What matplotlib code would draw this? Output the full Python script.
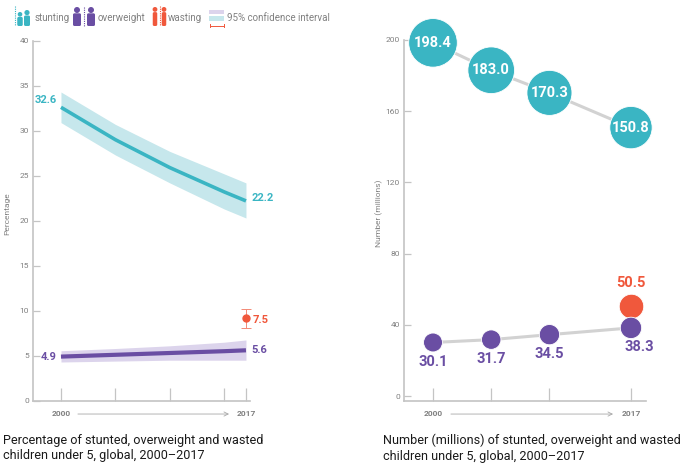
import numpy as np
import matplotlib.pyplot as plt
from matplotlib.patches import Circle, FancyBboxPatch, Rectangle

plt.rcParams["font.family"] = ["Roboto", "DejaVu Sans"]

# ---------------------------------------------------------------------------
# data
# ---------------------------------------------------------------------------
# left panel: prevalence (%)
years_pct = [2000, 2005, 2010, 2015, 2017]
stunting_pct = [32.6, 29.0, 25.9, 23.2, 22.2]
stunting_lo = [30.9, 27.3, 24.2, 21.3, 20.3]
stunting_hi = [34.3, 30.7, 27.7, 25.2, 24.2]
overweight_pct = [4.9, 5.1, 5.3, 5.5, 5.6]
overweight_lo = [4.3, 4.4, 4.5, 4.5, 4.5]
overweight_hi = [5.55, 5.8, 6.1, 6.5, 6.75]
wasting_year = 2017
wasting_pos = 9.15          # where the dot sits in the picture
wasting_ci = (8.05, 10.15)
wasting_label = "7.5"

# right panel: numbers (millions)
years_num = [2000, 2005, 2010, 2017]
stunting_num = [198.4, 183.0, 170.3, 150.8]
overweight_num = [30.1, 31.7, 34.5, 38.3]
wasting_num = 50.5

TEAL = "#3ab5c3"
TEAL_CI = "#c6e7ec"
PURPLE = "#6a4ea3"
PURPLE_CI = "#dcd4ec"
RED = "#f0583c"
GREY_AX = "#c4c4c4"
GREY_TXT = "#808080"
LINK = "#d2d2d2"

W, H = 690, 474
fig = plt.figure(figsize=(W / 100, H / 100), dpi=100)


def px_axes(x0, y0, x1, y1):
    return fig.add_axes([x0 / W, 1 - y1 / H, (x1 - x0) / W, (y1 - y0) / H])


def style_axes(ax, xticks, yticks):
    for s in ("top", "right"):
        ax.spines[s].set_visible(False)
    for s in ("left", "bottom"):
        ax.spines[s].set_color(GREY_AX)
        ax.spines[s].set_linewidth(1.2)
    ax.set_yticks(yticks)
    ax.tick_params(axis="y", direction="in", length=5, width=0.9, color=GREY_AX,
                   labelsize=6, labelcolor=GREY_TXT, pad=3)
    ax.set_xticks(xticks)
    ax.set_xticklabels([str(t) if t in (2000, 2017) else "" for t in xticks],
                       fontsize=6, color=GREY_TXT, fontweight="bold")
    ax.tick_params(axis="x", direction="in", length=9.5, width=0.9, color=GREY_AX,
                   pad=7)
    ax.annotate("", xy=(2015.7, -0.037), xytext=(2001.3, -0.037),
                xycoords=("data", "axes fraction"),
                textcoords=("data", "axes fraction"),
                arrowprops=dict(arrowstyle="->,head_length=0.3,head_width=0.15",
                                color="#a8a8a8", lw=0.6),
                annotation_clip=False)


# ---------------------------------------------------------------------------
# left panel
# ---------------------------------------------------------------------------
ax = px_axes(33, 40.7, 250, 400.7)
ax.set_xlim(1997.43, 2017.37)
ax.set_ylim(0, 40)
style_axes(ax, [2000, 2005, 2010, 2015, 2017], range(0, 41, 5))
ax.set_ylabel("Percentage", fontsize=6, color=GREY_TXT)
ax.yaxis.set_label_coords(-0.106, 0.52)

ax.fill_between(years_pct, stunting_lo, stunting_hi, color=TEAL_CI, lw=0)
ax.plot(years_pct, stunting_pct, color=TEAL, lw=2.6, solid_capstyle="butt")
ax.fill_between(years_pct, overweight_lo, overweight_hi, color=PURPLE_CI, lw=0)
ax.plot(years_pct, overweight_pct, color=PURPLE, lw=3, solid_capstyle="butt")
ax.errorbar([wasting_year], [wasting_pos],
            yerr=[[wasting_pos - wasting_ci[0]], [wasting_ci[1] - wasting_pos]],
            fmt="o", color=RED, ms=5, elinewidth=0.7, capsize=3.5, capthick=0.7,
            ecolor="#f38a76", clip_on=False)

lab = dict(fontsize=8, fontweight="bold", va="center", textcoords="offset points")
ax.annotate(f"{stunting_pct[0]}", (years_pct[0], stunting_pct[0]), xytext=(-3, 5),
            ha="right", color=TEAL, **lab)
ax.annotate(f"{stunting_pct[-1]}", (years_pct[-1], stunting_pct[-1]), xytext=(4, 2),
            ha="left", color=TEAL, **lab)
ax.annotate(f"{overweight_pct[0]}", (years_pct[0], overweight_pct[0]), xytext=(-3, 0),
            ha="right", color=PURPLE, **lab)
ax.annotate(f"{overweight_pct[-1]}", (years_pct[-1], overweight_pct[-1]), xytext=(4, 0),
            ha="left", color=PURPLE, **lab)
ax.annotate(wasting_label, (wasting_year, wasting_pos), xytext=(5, -1),
            ha="left", color=RED, **lab)

# ---------------------------------------------------------------------------
# right panel
# ---------------------------------------------------------------------------
ax2 = px_axes(404, 40, 646, 400.7)
ax2.set_xlim(1997.51, 2018.29)
ax2.set_ylim(-2.6, 200)
style_axes(ax2, years_num, range(0, 201, 40))
ax2.set_ylabel("Number (millions)", fontsize=6, color=GREY_TXT)
ax2.yaxis.set_label_coords(-0.087, 0.52)

ax2.plot(years_num, stunting_num, color=LINK, lw=2.2, zorder=1)
ax2.plot(years_num, overweight_num, color=LINK, lw=2.2, zorder=1)
k = 6.17  # bubble area proportional to value
ax2.scatter(years_num, stunting_num, s=np.array(stunting_num) * k, color=TEAL,
            edgecolor="white", lw=0.6, zorder=3, clip_on=False)
ax2.scatter(years_num, overweight_num, s=np.array(overweight_num) * k, color=PURPLE,
            edgecolor="white", lw=0.6, zorder=3, clip_on=False)
ax2.scatter([2017], [wasting_num], s=wasting_num * k, color=RED,
            edgecolor="white", lw=0.6, zorder=2, clip_on=False)

for x, v in zip(years_num, stunting_num):
    ax2.text(x, v, f"{v:.1f}", ha="center", va="center", color="white",
             fontsize=10.5, fontweight="bold", zorder=4)
for i, (x, v) in enumerate(zip(years_num, overweight_num)):
    dx = 6 if i == len(years_num) - 1 else 0
    ax2.annotate(f"{v:.1f}", (x, v), xytext=(dx, -14), textcoords="offset points",
                 ha="center", va="center", color=PURPLE, fontsize=10.5,
                 fontweight="bold")
ax2.annotate(f"{wasting_num:.1f}", (2017, wasting_num), xytext=(0, 17),
             textcoords="offset points", ha="center", va="center", color=RED,
             fontsize=10.5, fontweight="bold")

# ---------------------------------------------------------------------------
# captions
# ---------------------------------------------------------------------------
fig.text(3 / W, 1 - 448 / H,
         "Percentage of stunted, overweight and wasted\nchildren under 5, global, 2000\u20132017",
         fontsize=9.1, color="#1a1a1a", va="center", linespacing=1.28)
fig.text(383 / W, 1 - 448 / H,
         "Number (millions) of stunted, overweight and wasted\nchildren under 5, global, 2000\u20132017",
         fontsize=9.1, color="#1a1a1a", va="center", linespacing=1.28)

# ---------------------------------------------------------------------------
# legend (hand-drawn icons, pixel coordinates)
# ---------------------------------------------------------------------------
lg = fig.add_axes([0, 0, 1, 1], zorder=-1)
lg.set_xlim(0, W)
lg.set_ylim(H, 0)
lg.axis("off")


def kid(x, y_top, w, h, color, r=2.6):
    lg.add_patch(Circle((x, y_top + r), r, color=color, lw=0))
    lg.add_patch(FancyBboxPatch((x - w / 2, y_top + 2 * r + 0.3), w, h - 2 * r - 0.3,
                                boxstyle="round,pad=0,rounding_size=1.5",
                                color=color, lw=0))


def ruler(x, y0, y1, color):
    lg.plot([x, x], [y0, y1], color=color, lw=0.8, ls=(0, (1, 1)))


ruler(15, 6, 26, TEAL)
kid(20, 12, 5.5, 14, TEAL, r=2.3)
kid(27, 10, 6, 16, TEAL)
kid(77, 7, 8, 19, PURPLE, r=3)
ruler(84, 7, 26, PURPLE)
kid(91, 7, 8, 19, PURPLE, r=3)
kid(155, 7, 4.5, 19, RED, r=2.4)
ruler(160, 6, 26, RED)
kid(164, 7, 4.5, 19, RED, r=2.4)
lg.add_patch(Rectangle((209, 10), 15, 4, color=PURPLE_CI, lw=0))
lg.add_patch(Rectangle((209, 16), 15, 5, color=TEAL_CI, lw=0))
lg.plot([209.5, 223.5], [25.5, 25.5], color=RED, lw=0.7)
lg.plot([209.5, 209.5], [24, 27], color=RED, lw=0.7)
lg.plot([223.5, 223.5], [24, 27], color=RED, lw=0.7)

for x, t in [(35, "stunting"), (98, "overweight"), (168, "wasting"),
             (227, "95% confidence interval")]:
    lg.text(x, 18, t, fontsize=7, color=GREY_TXT, va="center", ha="left")

fig.savefig("out.png", dpi=100)
